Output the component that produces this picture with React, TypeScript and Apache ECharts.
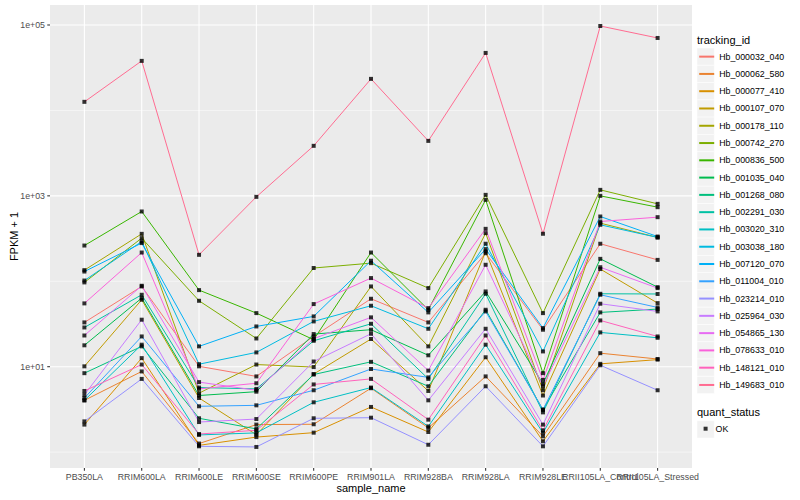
import React, { useEffect, useRef } from 'react';
import * as echarts from 'echarts';

const samples = ['PB350LA', 'RRIM600LA', 'RRIM600LE', 'RRIM600SE', 'RRIM600PE', 'RRIM901LA', 'RRIM928BA', 'RRIM928LA', 'RRIM928LE', 'RRII105LA_Control', 'RRII105LA_Stressed'];

const trackingIds = ['Hb_000032_040', 'Hb_000062_580', 'Hb_000077_410', 'Hb_000107_070', 'Hb_000178_110', 'Hb_000742_270', 'Hb_000836_500', 'Hb_001035_040', 'Hb_001268_080', 'Hb_002291_030', 'Hb_003020_310', 'Hb_003038_180', 'Hb_007120_070', 'Hb_011004_010', 'Hb_023214_010', 'Hb_025964_030', 'Hb_054865_130', 'Hb_078633_010', 'Hb_148121_010', 'Hb_149683_010'];

const colors = ['#F8766D', '#EA8331', '#D89000', '#C09B00', '#A3A500', '#7CAE00', '#39B600', '#00BB4E', '#00BF7D', '#00C1A3', '#00BFC4', '#00BAE0', '#00B0F6', '#35A2FF', '#9590FF', '#C77CFF', '#E76BF3', '#FA62DB', '#FF62BC', '#FF6C91'];

// FPKM + 1 values, one per sample
const hb000032_040 = [33.0, 87, 10.1, 7.7, 22.6, 62.4, 33.0, 213, 27.1, 275, 178];
const hb000062_580 = [4.04, 8.8, 1.26, 2.1, 2.12, 5.6, 1.92, 7.7, 1.53, 14.4, 12.3];
const hb000077_410 = [2.1, 12.6, 1.2, 1.5, 1.69, 3.38, 1.72, 12.9, 1.34, 10.8, 12.1];
const hb000107_070 = [10.1, 60.8, 4.3, 1.6, 8.2, 21.1, 5.2, 223, 4.6, 139, 55.5];
const hb000178_110 = [135, 359, 4.9, 10.6, 9.9, 87, 17.3, 366, 5.3, 479, 326];
const hb000742_270 = [97, 320, 59.1, 21.4, 143, 163, 83.2, 1027, 42.4, 1175, 806];
const hb000836_500 = [262, 656, 78.8, 42.4, 20.7, 217, 46.4, 898, 8.4, 1000, 737];
const hb001035_040 = [17.8, 63.6, 4.6, 5.1, 24.1, 27.1, 13.6, 76, 6.3, 183, 85.4];
const hb001268_080 = [8.4, 17.3, 2.49, 1.87, 8.1, 11.4, 5.9, 46.4, 3.14, 43.2, 47.3];
const hb002291_030 = [28.8, 69.5, 5.7, 5.5, 20.1, 31.8, 7.2, 71.4, 2.92, 71.4, 71.0];
const hb003020_310 = [4.04, 18.1, 1.59, 1.68, 3.83, 5.7, 2.0, 18.1, 1.68, 25.2, 21.8];
const hb003038_180 = [102, 292, 10.7, 14.7, 33.9, 51.7, 27.8, 275, 15.1, 458, 326];
const hb007120_070 = [130, 280, 17.3, 29.6, 38.8, 174, 43.2, 238, 28.3, 573, 334];
const hb011004_010 = [4.3, 22.6, 3.44, 3.53, 5.3, 9.4, 7.5, 44.4, 3.14, 69.5, 49.4];
const hb023214_010 = [2.29, 7.2, 1.17, 1.15, 2.49, 2.53, 1.22, 5.9, 1.17, 10.4, 5.3];
const hb025964_030 = [4.7, 35.5, 2.25, 2.44, 11.5, 24.3, 4.04, 27.8, 2.1, 54.6, 44.4];
const hb054865_130 = [23.2, 88.6, 6.6, 5.3, 21.3, 37.8, 9.0, 156, 5.9, 146, 83.2];
const hb078633_010 = [55.1, 217, 5.5, 6.4, 54.1, 109, 48.5, 411, 7.0, 501, 563];
const hb148121_010 = [5.2, 10.6, 1.63, 1.8, 6.2, 7.2, 2.4, 23.2, 1.8, 34.8, 22.6];
const hb149683_010 = [12600, 38000, 204, 973, 3850, 23400, 4400, 47100, 360, 97300, 70500];

const seriesValues = [hb000032_040, hb000062_580, hb000077_410, hb000107_070, hb000178_110, hb000742_270, hb000836_500, hb001035_040, hb001268_080, hb002291_030, hb003020_310, hb003038_180, hb007120_070, hb011004_010, hb023214_010, hb025964_030, hb054865_130, hb078633_010, hb148121_010, hb149683_010];

const yMajorTicks = [10, 1000, 100000];
const yMajorLabels = ['1e+01', '1e+03', '1e+05'];
const yMinorTicks = [1, 100, 10000];
const quantStatus = ['OK'];

const FONT = '"Liberation Sans", Arial, Helvetica, sans-serif';
const GRID = { left: 50, top: 5, width: 642, height: 463 };
const KEY = 17.28;
const LEG_X = 697;
const LEG_TOP = 48;

export default function App() {
  const ref = useRef<HTMLDivElement>(null);
  useEffect(() => {
    const chart = echarts.init(ref.current!, null, { renderer: 'svg' });

    const lineSeries = trackingIds.map((id, k) => ({
      name: id,
      type: 'line',
      symbol: 'none',
      data: seriesValues[k].map((v, i) => [i, v]),
      lineStyle: { color: colors[k], width: 1 },
      itemStyle: { color: colors[k] },
      emphasis: { disabled: true },
      z: 2,
    }));
    const points: number[][] = [];
    seriesValues.forEach((vals) => vals.forEach((v, i) => points.push([i, v])));

    chart.setOption({
      animation: false,
      grid: { ...GRID, show: false, containLabel: false, outerBoundsMode: 'none' },
      xAxis: {
        type: 'value',
        min: -0.6,
        max: 10.6,
        splitNumber: 11,
        minInterval: 1,
        maxInterval: 1,
        axisLine: { show: false },
        axisTick: { show: false },
        splitLine: { show: false },
        axisLabel: {
          margin: 4.5,
          color: '#4D4D4D',
          fontSize: 8.8,
          fontFamily: FONT,
          hideOverlap: false,
          formatter: (v: number) => {
            const r = Math.round(v);
            return Math.abs(v - r) < 1e-6 && r >= 0 && r < samples.length ? samples[r] : '';
          },
        },
        name: 'sample_name',
        nameLocation: 'middle',
        nameGap: 14,
        nameMoveOverlap: false,
        nameTextStyle: { color: '#000000', fontSize: 11, fontFamily: FONT, verticalAlign: 'top' },
      },
      yAxis: {
        type: 'log',
        logBase: 10,
        min: 0.652,
        max: 171400,
        axisLine: { show: false },
        axisTick: { show: false },
        splitLine: { show: false },
        axisLabel: {
          margin: 5,
          color: '#4D4D4D',
          fontSize: 8.8,
          fontFamily: FONT,
          formatter: (v: number) => {
            const idx = yMajorTicks.findIndex((t) => Math.abs(v - t) / t < 1e-6);
            return idx >= 0 ? yMajorLabels[idx] : '';
          },
        },
        name: 'FPKM + 1',
        nameLocation: 'middle',
        nameRotate: 90,
        nameGap: 30.5,
        nameMoveOverlap: false,
        nameTextStyle: { color: '#000000', fontSize: 11, fontFamily: FONT },
      },
      legend: [
        {
          orient: 'vertical',
          left: LEG_X + 1.2,
          top: LEG_TOP + 1.73,
          padding: 0,
          itemWidth: 15,
          itemHeight: KEY,
          itemGap: KEY * 0.2,
          selectedMode: false,
          itemStyle: { opacity: 0 },
          data: trackingIds,
          textStyle: { color: '#000000', fontSize: 8.8, fontFamily: FONT },
        },
        {
          orient: 'vertical',
          left: LEG_X + 6.6,
          top: 424.2,
          padding: 0,
          itemWidth: 4,
          itemHeight: 4,
          selectedMode: false,
          data: quantStatus.map((q) => ({ name: q, icon: 'rect' })),
          textStyle: { color: '#000000', fontSize: 8.8, fontFamily: FONT, padding: [0, 0, 0, 3] },
        },
      ],
      series: [
        ...lineSeries,
        {
          name: quantStatus[0],
          type: 'scatter',
          symbol: 'rect',
          symbolSize: 4,
          itemStyle: { color: '#000000' },
          emphasis: { disabled: true },
          data: points,
          z: 3,
        },
      ],
    });

    const px = (i: number) => chart.convertToPixel({ xAxisIndex: 0 } as any, i) as number;
    const py = (v: number) => chart.convertToPixel({ yAxisIndex: 0 } as any, v) as number;
    const x0 = GRID.left, x1 = GRID.left + GRID.width, y0 = GRID.top, y1 = GRID.top + GRID.height;

    const graphics: any[] = [];
    graphics.push({ type: 'rect', z: 0, silent: true, shape: { x: x0, y: y0, width: GRID.width, height: GRID.height }, style: { fill: '#EBEBEB' } });
    yMinorTicks.forEach((t) => {
      const y = py(t);
      graphics.push({ type: 'line', z: 1, silent: true, shape: { x1: x0, y1: y, x2: x1, y2: y }, style: { stroke: '#FFFFFF', lineWidth: 0.53 } });
    });
    yMajorTicks.forEach((t) => {
      const y = py(t);
      graphics.push({ type: 'line', z: 1, silent: true, shape: { x1: x0, y1: y, x2: x1, y2: y }, style: { stroke: '#FFFFFF', lineWidth: 1.07 } });
      graphics.push({ type: 'line', z: 1, silent: true, shape: { x1: x0 - 2.75, y1: y, x2: x0, y2: y }, style: { stroke: '#333333', lineWidth: 1.07 } });
    });
    samples.forEach((_, i) => {
      const x = px(i);
      graphics.push({ type: 'line', z: 1, silent: true, shape: { x1: x, y1: y0, x2: x, y2: y1 }, style: { stroke: '#FFFFFF', lineWidth: 1.07 } });
      graphics.push({ type: 'line', z: 1, silent: true, shape: { x1: x, y1: y1, x2: x, y2: y1 + 2.75 }, style: { stroke: '#333333', lineWidth: 1.07 } });
    });
    // legend titles and key backgrounds
    graphics.push({ type: 'text', z: 1, silent: true, x: LEG_X, y: 40, style: { text: 'tracking_id', fill: '#000000', fontSize: 11, fontFamily: FONT, verticalAlign: 'middle', align: 'left' } });
    trackingIds.forEach((_, i) => {
      graphics.push({ type: 'rect', z: 0, silent: true, shape: { x: LEG_X, y: LEG_TOP + KEY * i, width: KEY, height: KEY }, style: { fill: '#F2F2F2', stroke: '#FFFFFF', lineWidth: 0.5 } });
    });
    graphics.push({ type: 'text', z: 1, silent: true, x: LEG_X, y: 411.7, style: { text: 'quant_status', fill: '#000000', fontSize: 11, fontFamily: FONT, verticalAlign: 'middle', align: 'left' } });
    graphics.push({ type: 'rect', z: 0, silent: true, shape: { x: LEG_X, y: 420.7, width: KEY, height: KEY }, style: { fill: '#F2F2F2', stroke: '#FFFFFF', lineWidth: 0.5 } });

    chart.setOption({ graphic: graphics });

    return () => chart.dispose();
  }, []);
  return <div ref={ref} style={{ position: 'fixed', left: 0, top: 0, width: 800, height: 500, background: '#FFFFFF' }} />;
}
